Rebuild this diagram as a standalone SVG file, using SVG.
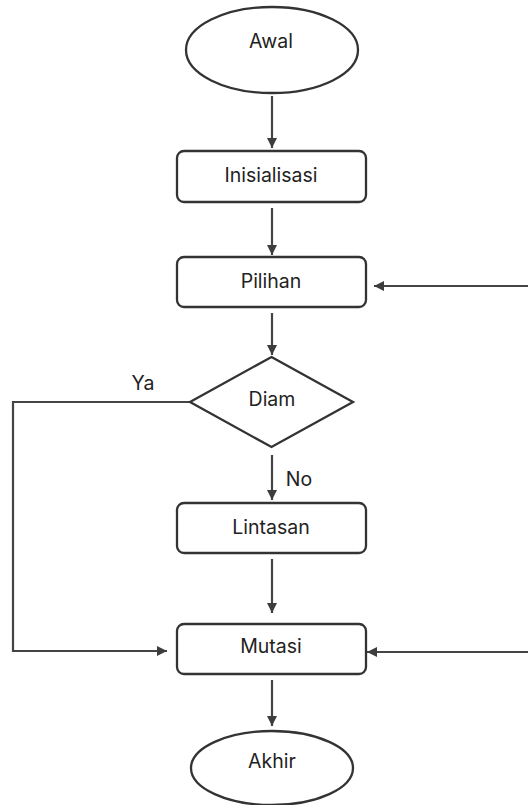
<svg xmlns="http://www.w3.org/2000/svg" width="528" height="805" viewBox="0 0 528 805">
<defs>
<marker id="arr" viewBox="0 0 10 10" refX="10" refY="5" markerWidth="10" markerHeight="10" markerUnits="userSpaceOnUse" orient="auto">
<path d="M0,0 L10,5 L0,10 Z" fill="#3d3d3d"/>
</marker>
<style>
.shape{fill:#fff;stroke:#333;stroke-width:2.3}
.edge{fill:none;stroke:#444;stroke-width:2.2;marker-end:url(#arr)}
text{font-family:Inter,"Liberation Sans",sans-serif;font-size:19.5px;fill:#222;text-anchor:middle;dominant-baseline:central}
</style>
</defs>
<rect width="528" height="805" fill="#fff"/>
<g id="connectors">
<line class="edge" x1="272" y1="96" x2="272" y2="148"/>
<line class="edge" x1="272" y1="208" x2="272" y2="255"/>
<line class="edge" x1="528" y1="286" x2="374" y2="286"/>
<line class="edge" x1="272" y1="313" x2="272" y2="355"/>
<line class="edge" x1="272" y1="455" x2="272" y2="500"/>
<line class="edge" x1="272" y1="559" x2="272" y2="613"/>
<polyline class="edge" points="190,402 13,402 13,651 167,651"/>
<line class="edge" x1="528" y1="652" x2="367" y2="652"/>
<line class="edge" x1="272" y1="680" x2="272" y2="726"/>
<text x="143" y="383">Ya</text>
<text x="299" y="478.5">No</text>
</g>
<g id="awal"><ellipse class="shape" cx="272" cy="50" rx="86" ry="43"/><text x="271" y="41">Awal</text></g>
<g id="inisialisasi"><rect class="shape" x="177" y="151" width="189" height="51" rx="7"/><text x="271" y="175">Inisialisasi</text></g>
<g id="pilihan"><rect class="shape" x="177" y="257" width="189" height="50" rx="7"/><text x="271" y="280.5">Pilihan</text></g>
<g id="diam"><polygon class="shape" points="271.5,357 353,402 271.5,447 190,402"/><text x="272" y="398.5">Diam</text></g>
<g id="lintasan"><rect class="shape" x="177" y="503" width="189" height="50" rx="7"/><text x="271" y="526.5">Lintasan</text></g>
<g id="mutasi"><rect class="shape" x="177" y="624" width="189" height="50" rx="7"/><text x="271" y="646">Mutasi</text></g>
<g id="akhir"><ellipse class="shape" cx="272" cy="768" rx="81" ry="37"/><text x="272" y="761">Akhir</text></g>
</svg>
